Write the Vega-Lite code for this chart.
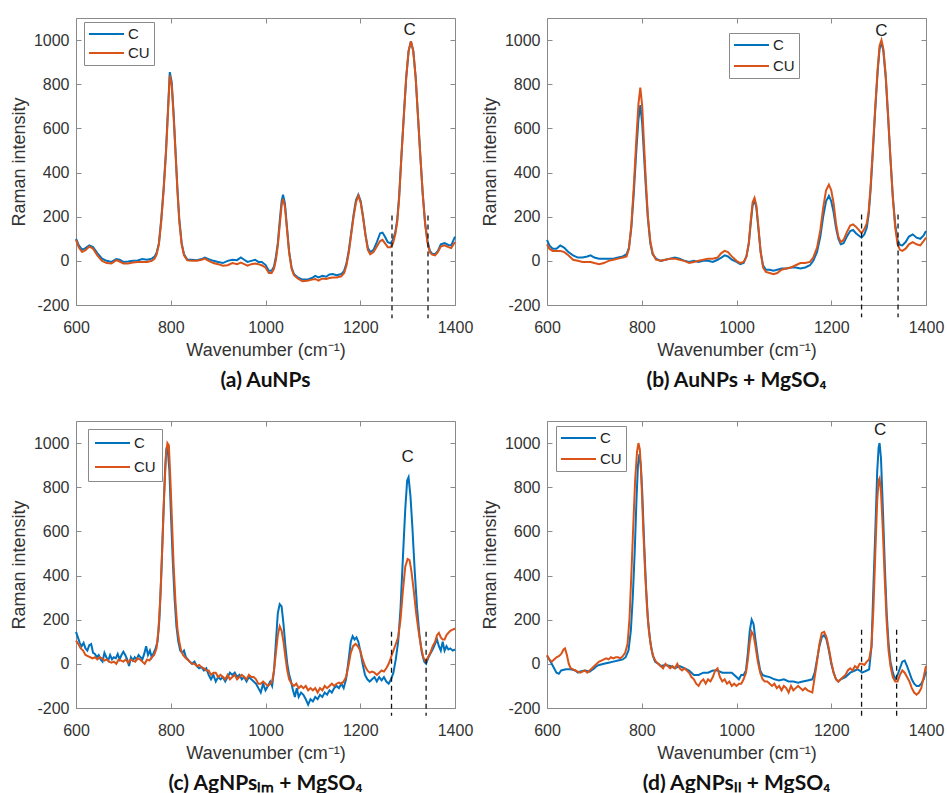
{
  "$schema": "https://vega.github.io/schema/vega-lite/v6.json",
  "padding": {"left": 10, "top": 17, "right": 5, "bottom": 5},
  "background": "white",
  "datasets": {
    "a": [
      {"x":600,"C":100,"CU":95},{"x":606,"C":70,"CU":60},{"x":613,"C":50,"CU":40},{"x":620,"C":58,"CU":48},{"x":628,"C":70,"CU":65},{"x":636,"C":62,"CU":55},{"x":645,"C":35,"CU":25},{"x":655,"C":10,"CU":0},{"x":665,"C":0,"CU":-10},{"x":675,"C":-5,"CU":-12},{"x":685,"C":8,"CU":3},{"x":692,"C":5,"CU":-3},{"x":700,"C":-5,"CU":-12},{"x":710,"C":-3,"CU":-12},{"x":720,"C":0,"CU":-8},{"x":730,"C":2,"CU":-5},{"x":740,"C":8,"CU":-5},{"x":750,"C":5,"CU":-5},{"x":760,"C":10,"CU":0},{"x":766,"C":20,"CU":10},{"x":770,"C":35,"CU":28},{"x":775,"C":80,"CU":75},{"x":780,"C":190,"CU":180},{"x":785,"C":330,"CU":320},{"x":790,"C":500,"CU":490},{"x":794,"C":680,"CU":665},{"x":798,"C":855,"CU":840},{"x":802,"C":810,"CU":795},{"x":806,"C":670,"CU":655},{"x":810,"C":500,"CU":490},{"x":814,"C":330,"CU":320},{"x":818,"C":190,"CU":180},{"x":823,"C":80,"CU":75},{"x":828,"C":30,"CU":25},{"x":835,"C":5,"CU":2},{"x":845,"C":5,"CU":0},{"x":855,"C":3,"CU":0},{"x":865,"C":8,"CU":5},{"x":872,"C":15,"CU":10},{"x":880,"C":8,"CU":0},{"x":890,"C":0,"CU":-10},{"x":900,"C":-5,"CU":-15},{"x":910,"C":-10,"CU":-22},{"x":920,"C":0,"CU":-20},{"x":930,"C":5,"CU":-10},{"x":940,"C":3,"CU":-15},{"x":948,"C":15,"CU":-8},{"x":955,"C":5,"CU":-15},{"x":962,"C":-5,"CU":-22},{"x":970,"C":0,"CU":-15},{"x":978,"C":5,"CU":-12},{"x":985,"C":-5,"CU":-15},{"x":992,"C":-5,"CU":-20},{"x":1000,"C":-18,"CU":-30},{"x":1007,"C":-45,"CU":-55},{"x":1013,"C":-45,"CU":-55},{"x":1018,"C":-25,"CU":-35},{"x":1022,"C":20,"CU":5},{"x":1026,"C":80,"CU":70},{"x":1030,"C":180,"CU":160},{"x":1034,"C":270,"CU":250},{"x":1037,"C":300,"CU":280},{"x":1041,"C":260,"CU":245},{"x":1045,"C":160,"CU":150},{"x":1050,"C":40,"CU":35},{"x":1055,"C":-30,"CU":-35},{"x":1060,"C":-60,"CU":-65},{"x":1068,"C":-75,"CU":-80},{"x":1078,"C":-85,"CU":-92},{"x":1088,"C":-85,"CU":-90},{"x":1098,"C":-78,"CU":-85},{"x":1105,"C":-68,"CU":-82},{"x":1112,"C":-75,"CU":-90},{"x":1120,"C":-68,"CU":-80},{"x":1128,"C":-72,"CU":-82},{"x":1135,"C":-62,"CU":-78},{"x":1142,"C":-60,"CU":-75},{"x":1150,"C":-65,"CU":-75},{"x":1160,"C":-60,"CU":-70},{"x":1166,"C":-45,"CU":-55},{"x":1171,"C":-10,"CU":-20},{"x":1176,"C":50,"CU":40},{"x":1181,"C":130,"CU":120},{"x":1186,"C":210,"CU":200},{"x":1191,"C":275,"CU":265},{"x":1196,"C":300,"CU":295},{"x":1201,"C":270,"CU":262},{"x":1206,"C":200,"CU":195},{"x":1211,"C":120,"CU":115},{"x":1216,"C":60,"CU":50},{"x":1221,"C":40,"CU":30},{"x":1228,"C":50,"CU":40},{"x":1235,"C":85,"CU":65},{"x":1242,"C":125,"CU":90},{"x":1247,"C":128,"CU":95},{"x":1252,"C":110,"CU":80},{"x":1258,"C":85,"CU":62},{"x":1264,"C":80,"CU":62},{"x":1269,"C":95,"CU":78},{"x":1274,"C":130,"CU":120},{"x":1278,"C":185,"CU":175},{"x":1282,"C":290,"CU":280},{"x":1287,"C":480,"CU":475},{"x":1292,"C":660,"CU":655},{"x":1297,"C":830,"CU":830},{"x":1302,"C":950,"CU":950},{"x":1307,"C":995,"CU":995},{"x":1312,"C":950,"CU":950},{"x":1317,"C":830,"CU":830},{"x":1322,"C":650,"CU":650},{"x":1327,"C":470,"CU":470},{"x":1332,"C":300,"CU":300},{"x":1337,"C":170,"CU":165},{"x":1342,"C":90,"CU":82},{"x":1347,"C":45,"CU":38},{"x":1352,"C":32,"CU":28},{"x":1358,"C":30,"CU":25},{"x":1364,"C":45,"CU":40},{"x":1370,"C":75,"CU":65},{"x":1378,"C":80,"CU":70},{"x":1386,"C":72,"CU":62},{"x":1392,"C":70,"CU":58},{"x":1397,"C":95,"CU":75},{"x":1400,"C":110,"CU":85}
    ],
    "b": [
      {"x":600,"C":95,"CU":75},{"x":605,"C":70,"CU":55},{"x":612,"C":55,"CU":45},{"x":620,"C":55,"CU":45},{"x":628,"C":70,"CU":45},{"x":636,"C":60,"CU":40},{"x":645,"C":40,"CU":25},{"x":655,"C":25,"CU":5},{"x":665,"C":15,"CU":0},{"x":675,"C":15,"CU":-5},{"x":685,"C":20,"CU":-5},{"x":692,"C":25,"CU":-5},{"x":700,"C":15,"CU":-10},{"x":710,"C":10,"CU":-15},{"x":720,"C":10,"CU":-10},{"x":730,"C":10,"CU":0},{"x":740,"C":10,"CU":5},{"x":750,"C":15,"CU":10},{"x":760,"C":20,"CU":15},{"x":768,"C":30,"CU":20},{"x":773,"C":60,"CU":55},{"x":778,"C":150,"CU":160},{"x":783,"C":300,"CU":330},{"x":788,"C":480,"CU":530},{"x":793,"C":640,"CU":710},{"x":797,"C":705,"CU":785},{"x":801,"C":620,"CU":700},{"x":805,"C":470,"CU":520},{"x":809,"C":320,"CU":350},{"x":813,"C":190,"CU":200},{"x":818,"C":80,"CU":90},{"x":823,"C":30,"CU":35},{"x":830,"C":10,"CU":5},{"x":840,"C":0,"CU":0},{"x":850,"C":5,"CU":5},{"x":860,"C":10,"CU":10},{"x":870,"C":15,"CU":10},{"x":880,"C":10,"CU":5},{"x":890,"C":0,"CU":0},{"x":900,"C":-5,"CU":-10},{"x":910,"C":0,"CU":-5},{"x":920,"C":-5,"CU":0},{"x":930,"C":0,"CU":5},{"x":940,"C":0,"CU":10},{"x":950,"C":-5,"CU":10},{"x":960,"C":5,"CU":15},{"x":968,"C":15,"CU":35},{"x":975,"C":25,"CU":45},{"x":982,"C":20,"CU":40},{"x":990,"C":5,"CU":20},{"x":1000,"C":-5,"CU":0},{"x":1008,"C":-15,"CU":-10},{"x":1015,"C":-10,"CU":-5},{"x":1021,"C":20,"CU":20},{"x":1026,"C":80,"CU":80},{"x":1030,"C":170,"CU":180},{"x":1034,"C":250,"CU":265},{"x":1038,"C":275,"CU":285},{"x":1042,"C":240,"CU":250},{"x":1046,"C":150,"CU":160},{"x":1051,"C":40,"CU":40},{"x":1056,"C":-20,"CU":-30},{"x":1062,"C":-40,"CU":-50},{"x":1070,"C":-40,"CU":-55},{"x":1078,"C":-45,"CU":-60},{"x":1086,"C":-40,"CU":-55},{"x":1095,"C":-35,"CU":-40},{"x":1105,"C":-35,"CU":-35},{"x":1115,"C":-30,"CU":-30},{"x":1125,"C":-30,"CU":-20},{"x":1135,"C":-35,"CU":-10},{"x":1145,"C":-30,"CU":-10},{"x":1155,"C":-20,"CU":-5},{"x":1162,"C":0,"CU":15},{"x":1170,"C":40,"CU":60},{"x":1177,"C":110,"CU":140},{"x":1183,"C":200,"CU":240},{"x":1189,"C":270,"CU":320},{"x":1195,"C":295,"CU":345},{"x":1200,"C":270,"CU":320},{"x":1205,"C":220,"CU":260},{"x":1210,"C":150,"CU":170},{"x":1215,"C":100,"CU":110},{"x":1220,"C":75,"CU":85},{"x":1226,"C":80,"CU":95},{"x":1233,"C":110,"CU":130},{"x":1240,"C":135,"CU":160},{"x":1246,"C":140,"CU":165},{"x":1252,"C":125,"CU":155},{"x":1258,"C":115,"CU":140},{"x":1264,"C":105,"CU":125},{"x":1270,"C":120,"CU":145},{"x":1275,"C":150,"CU":170},{"x":1279,"C":210,"CU":225},{"x":1283,"C":320,"CU":335},{"x":1288,"C":500,"CU":515},{"x":1293,"C":690,"CU":700},{"x":1298,"C":860,"CU":870},{"x":1302,"C":960,"CU":975},{"x":1306,"C":990,"CU":1000},{"x":1310,"C":950,"CU":960},{"x":1315,"C":830,"CU":840},{"x":1320,"C":650,"CU":660},{"x":1325,"C":460,"CU":465},{"x":1330,"C":290,"CU":285},{"x":1335,"C":165,"CU":150},{"x":1340,"C":95,"CU":75},{"x":1345,"C":72,"CU":50},{"x":1350,"C":70,"CU":45},{"x":1357,"C":85,"CU":55},{"x":1364,"C":110,"CU":75},{"x":1372,"C":120,"CU":85},{"x":1380,"C":105,"CU":75},{"x":1388,"C":100,"CU":70},{"x":1395,"C":115,"CU":90},{"x":1400,"C":135,"CU":105}
    ],
    "c": [
      {"x":600,"s":"C","v":145},{"x":604,"s":"C","v":120},{"x":608,"s":"C","v":95},{"x":612,"s":"C","v":80},{"x":616,"s":"C","v":95},{"x":620,"s":"C","v":70},{"x":624,"s":"C","v":60},{"x":628,"s":"C","v":85},{"x":632,"s":"C","v":90},{"x":636,"s":"C","v":50},{"x":640,"s":"C","v":45},{"x":644,"s":"C","v":30},{"x":648,"s":"C","v":40},{"x":652,"s":"C","v":20},{"x":656,"s":"C","v":10},{"x":660,"s":"C","v":50},{"x":664,"s":"C","v":30},{"x":668,"s":"C","v":15},{"x":672,"s":"C","v":40},{"x":676,"s":"C","v":20},{"x":680,"s":"C","v":30},{"x":684,"s":"C","v":25},{"x":688,"s":"C","v":45},{"x":692,"s":"C","v":20},{"x":696,"s":"C","v":40},{"x":700,"s":"C","v":55},{"x":704,"s":"C","v":40},{"x":708,"s":"C","v":20},{"x":712,"s":"C","v":-10},{"x":716,"s":"C","v":30},{"x":720,"s":"C","v":15},{"x":724,"s":"C","v":30},{"x":728,"s":"C","v":20},{"x":732,"s":"C","v":40},{"x":736,"s":"C","v":30},{"x":740,"s":"C","v":20},{"x":744,"s":"C","v":45},{"x":748,"s":"C","v":80},{"x":752,"s":"C","v":40},{"x":756,"s":"C","v":60},{"x":760,"s":"C","v":30},{"x":764,"s":"C","v":50},{"x":768,"s":"C","v":70},{"x":772,"s":"C","v":100},{"x":776,"s":"C","v":200},{"x":780,"s":"C","v":400},{"x":784,"s":"C","v":650},{"x":788,"s":"C","v":880},{"x":791,"s":"C","v":980},{"x":794,"s":"C","v":960},{"x":797,"s":"C","v":880},{"x":800,"s":"C","v":700},{"x":804,"s":"C","v":480},{"x":808,"s":"C","v":300},{"x":812,"s":"C","v":170},{"x":816,"s":"C","v":100},{"x":820,"s":"C","v":60},{"x":824,"s":"C","v":50},{"x":828,"s":"C","v":60},{"x":832,"s":"C","v":30},{"x":836,"s":"C","v":20},{"x":840,"s":"C","v":10},{"x":845,"s":"C","v":0},{"x":850,"s":"C","v":10},{"x":855,"s":"C","v":-10},{"x":860,"s":"C","v":-20},{"x":865,"s":"C","v":-15},{"x":870,"s":"C","v":-30},{"x":875,"s":"C","v":-20},{"x":880,"s":"C","v":-50},{"x":885,"s":"C","v":-70},{"x":890,"s":"C","v":-50},{"x":895,"s":"C","v":-80},{"x":900,"s":"C","v":-60},{"x":905,"s":"C","v":-70},{"x":910,"s":"C","v":-60},{"x":915,"s":"C","v":-80},{"x":920,"s":"C","v":-60},{"x":925,"s":"C","v":-40},{"x":930,"s":"C","v":-50},{"x":935,"s":"C","v":-40},{"x":940,"s":"C","v":-60},{"x":945,"s":"C","v":-50},{"x":950,"s":"C","v":-70},{"x":955,"s":"C","v":-60},{"x":960,"s":"C","v":-80},{"x":965,"s":"C","v":-60},{"x":970,"s":"C","v":-70},{"x":975,"s":"C","v":-80},{"x":980,"s":"C","v":-90},{"x":985,"s":"C","v":-110},{"x":990,"s":"C","v":-130},{"x":995,"s":"C","v":-90},{"x":1000,"s":"C","v":-120},{"x":1005,"s":"C","v":-100},{"x":1010,"s":"C","v":-80},{"x":1014,"s":"C","v":-100},{"x":1018,"s":"C","v":-30},{"x":1022,"s":"C","v":100},{"x":1026,"s":"C","v":230},{"x":1030,"s":"C","v":270},{"x":1034,"s":"C","v":260},{"x":1038,"s":"C","v":180},{"x":1042,"s":"C","v":80},{"x":1046,"s":"C","v":0},{"x":1050,"s":"C","v":-50},{"x":1054,"s":"C","v":-80},{"x":1058,"s":"C","v":-120},{"x":1062,"s":"C","v":-150},{"x":1066,"s":"C","v":-110},{"x":1070,"s":"C","v":-150},{"x":1075,"s":"C","v":-130},{"x":1080,"s":"C","v":-140},{"x":1085,"s":"C","v":-160},{"x":1090,"s":"C","v":-185},{"x":1095,"s":"C","v":-160},{"x":1100,"s":"C","v":-170},{"x":1105,"s":"C","v":-150},{"x":1110,"s":"C","v":-160},{"x":1115,"s":"C","v":-140},{"x":1120,"s":"C","v":-150},{"x":1125,"s":"C","v":-130},{"x":1130,"s":"C","v":-140},{"x":1135,"s":"C","v":-120},{"x":1140,"s":"C","v":-130},{"x":1145,"s":"C","v":-110},{"x":1150,"s":"C","v":-100},{"x":1155,"s":"C","v":-110},{"x":1160,"s":"C","v":-90},{"x":1165,"s":"C","v":-110},{"x":1170,"s":"C","v":-70},{"x":1175,"s":"C","v":10},{"x":1180,"s":"C","v":100},{"x":1184,"s":"C","v":125},{"x":1188,"s":"C","v":110},{"x":1192,"s":"C","v":120},{"x":1196,"s":"C","v":100},{"x":1200,"s":"C","v":60},{"x":1205,"s":"C","v":0},{"x":1210,"s":"C","v":-50},{"x":1215,"s":"C","v":-70},{"x":1220,"s":"C","v":-80},{"x":1225,"s":"C","v":-70},{"x":1230,"s":"C","v":-60},{"x":1235,"s":"C","v":-80},{"x":1240,"s":"C","v":-60},{"x":1245,"s":"C","v":-75},{"x":1250,"s":"C","v":-60},{"x":1255,"s":"C","v":-80},{"x":1260,"s":"C","v":-90},{"x":1265,"s":"C","v":-70},{"x":1270,"s":"C","v":-40},{"x":1275,"s":"C","v":20},{"x":1280,"s":"C","v":100},{"x":1285,"s":"C","v":250},{"x":1290,"s":"C","v":480},{"x":1295,"s":"C","v":700},{"x":1299,"s":"C","v":830},{"x":1302,"s":"C","v":845},{"x":1306,"s":"C","v":760},{"x":1310,"s":"C","v":620},{"x":1315,"s":"C","v":420},{"x":1320,"s":"C","v":250},{"x":1325,"s":"C","v":130},{"x":1330,"s":"C","v":50},{"x":1335,"s":"C","v":10},{"x":1339,"s":"C","v":0},{"x":1344,"s":"C","v":30},{"x":1349,"s":"C","v":50},{"x":1354,"s":"C","v":70},{"x":1358,"s":"C","v":90},{"x":1362,"s":"C","v":110},{"x":1366,"s":"C","v":80},{"x":1370,"s":"C","v":60},{"x":1374,"s":"C","v":100},{"x":1378,"s":"C","v":60},{"x":1382,"s":"C","v":80},{"x":1386,"s":"C","v":65},{"x":1390,"s":"C","v":70},{"x":1395,"s":"C","v":60},{"x":1400,"s":"C","v":65},
      {"x":600,"s":"CU","v":105},{"x":605,"s":"CU","v":90},{"x":610,"s":"CU","v":70},{"x":615,"s":"CU","v":60},{"x":620,"s":"CU","v":40},{"x":625,"s":"CU","v":35},{"x":630,"s":"CU","v":30},{"x":635,"s":"CU","v":25},{"x":640,"s":"CU","v":30},{"x":645,"s":"CU","v":20},{"x":650,"s":"CU","v":30},{"x":655,"s":"CU","v":25},{"x":660,"s":"CU","v":15},{"x":665,"s":"CU","v":20},{"x":670,"s":"CU","v":10},{"x":675,"s":"CU","v":5},{"x":680,"s":"CU","v":10},{"x":685,"s":"CU","v":0},{"x":690,"s":"CU","v":20},{"x":695,"s":"CU","v":15},{"x":700,"s":"CU","v":10},{"x":705,"s":"CU","v":20},{"x":710,"s":"CU","v":5},{"x":715,"s":"CU","v":20},{"x":720,"s":"CU","v":15},{"x":725,"s":"CU","v":10},{"x":730,"s":"CU","v":25},{"x":735,"s":"CU","v":20},{"x":740,"s":"CU","v":10},{"x":745,"s":"CU","v":0},{"x":750,"s":"CU","v":20},{"x":755,"s":"CU","v":15},{"x":760,"s":"CU","v":30},{"x":765,"s":"CU","v":40},{"x":770,"s":"CU","v":70},{"x":774,"s":"CU","v":150},{"x":778,"s":"CU","v":300},{"x":782,"s":"CU","v":520},{"x":786,"s":"CU","v":760},{"x":790,"s":"CU","v":950},{"x":793,"s":"CU","v":1000},{"x":796,"s":"CU","v":990},{"x":799,"s":"CU","v":850},{"x":802,"s":"CU","v":680},{"x":806,"s":"CU","v":450},{"x":810,"s":"CU","v":280},{"x":814,"s":"CU","v":160},{"x":818,"s":"CU","v":100},{"x":822,"s":"CU","v":60},{"x":826,"s":"CU","v":40},{"x":830,"s":"CU","v":30},{"x":835,"s":"CU","v":20},{"x":840,"s":"CU","v":10},{"x":845,"s":"CU","v":0},{"x":850,"s":"CU","v":0},{"x":855,"s":"CU","v":-10},{"x":860,"s":"CU","v":-5},{"x":865,"s":"CU","v":-15},{"x":870,"s":"CU","v":-20},{"x":875,"s":"CU","v":-30},{"x":880,"s":"CU","v":-30},{"x":885,"s":"CU","v":-50},{"x":890,"s":"CU","v":-40},{"x":895,"s":"CU","v":-40},{"x":900,"s":"CU","v":-60},{"x":905,"s":"CU","v":-50},{"x":910,"s":"CU","v":-60},{"x":915,"s":"CU","v":-70},{"x":920,"s":"CU","v":-50},{"x":925,"s":"CU","v":-70},{"x":930,"s":"CU","v":-60},{"x":935,"s":"CU","v":-50},{"x":940,"s":"CU","v":-70},{"x":945,"s":"CU","v":-60},{"x":950,"s":"CU","v":-50},{"x":955,"s":"CU","v":-60},{"x":960,"s":"CU","v":-70},{"x":965,"s":"CU","v":-50},{"x":970,"s":"CU","v":-60},{"x":975,"s":"CU","v":-60},{"x":980,"s":"CU","v":-70},{"x":985,"s":"CU","v":-90},{"x":990,"s":"CU","v":-90},{"x":995,"s":"CU","v":-80},{"x":1000,"s":"CU","v":-90},{"x":1005,"s":"CU","v":-100},{"x":1010,"s":"CU","v":-90},{"x":1014,"s":"CU","v":-80},{"x":1018,"s":"CU","v":-30},{"x":1022,"s":"CU","v":50},{"x":1026,"s":"CU","v":130},{"x":1030,"s":"CU","v":170},{"x":1034,"s":"CU","v":150},{"x":1038,"s":"CU","v":100},{"x":1042,"s":"CU","v":30},{"x":1046,"s":"CU","v":-30},{"x":1050,"s":"CU","v":-70},{"x":1055,"s":"CU","v":-90},{"x":1060,"s":"CU","v":-100},{"x":1065,"s":"CU","v":-90},{"x":1070,"s":"CU","v":-110},{"x":1075,"s":"CU","v":-100},{"x":1080,"s":"CU","v":-110},{"x":1085,"s":"CU","v":-100},{"x":1090,"s":"CU","v":-120},{"x":1095,"s":"CU","v":-110},{"x":1100,"s":"CU","v":-120},{"x":1105,"s":"CU","v":-110},{"x":1110,"s":"CU","v":-130},{"x":1115,"s":"CU","v":-110},{"x":1120,"s":"CU","v":-120},{"x":1125,"s":"CU","v":-100},{"x":1130,"s":"CU","v":-110},{"x":1135,"s":"CU","v":-100},{"x":1140,"s":"CU","v":-90},{"x":1145,"s":"CU","v":-100},{"x":1150,"s":"CU","v":-90},{"x":1155,"s":"CU","v":-85},{"x":1160,"s":"CU","v":-90},{"x":1165,"s":"CU","v":-80},{"x":1170,"s":"CU","v":-60},{"x":1175,"s":"CU","v":-10},{"x":1180,"s":"CU","v":50},{"x":1185,"s":"CU","v":80},{"x":1190,"s":"CU","v":90},{"x":1195,"s":"CU","v":80},{"x":1200,"s":"CU","v":60},{"x":1205,"s":"CU","v":20},{"x":1210,"s":"CU","v":-10},{"x":1215,"s":"CU","v":-30},{"x":1220,"s":"CU","v":-40},{"x":1225,"s":"CU","v":-35},{"x":1230,"s":"CU","v":-40},{"x":1235,"s":"CU","v":-50},{"x":1240,"s":"CU","v":-40},{"x":1245,"s":"CU","v":-30},{"x":1250,"s":"CU","v":-35},{"x":1255,"s":"CU","v":-20},{"x":1260,"s":"CU","v":0},{"x":1265,"s":"CU","v":30},{"x":1270,"s":"CU","v":60},{"x":1275,"s":"CU","v":90},{"x":1280,"s":"CU","v":120},{"x":1285,"s":"CU","v":200},{"x":1290,"s":"CU","v":330},{"x":1295,"s":"CU","v":440},{"x":1300,"s":"CU","v":475},{"x":1304,"s":"CU","v":470},{"x":1308,"s":"CU","v":420},{"x":1313,"s":"CU","v":330},{"x":1318,"s":"CU","v":230},{"x":1323,"s":"CU","v":150},{"x":1328,"s":"CU","v":80},{"x":1333,"s":"CU","v":30},{"x":1338,"s":"CU","v":10},{"x":1343,"s":"CU","v":30},{"x":1348,"s":"CU","v":50},{"x":1353,"s":"CU","v":80},{"x":1358,"s":"CU","v":100},{"x":1362,"s":"CU","v":130},{"x":1366,"s":"CU","v":140},{"x":1370,"s":"CU","v":120},{"x":1374,"s":"CU","v":110},{"x":1378,"s":"CU","v":110},{"x":1382,"s":"CU","v":130},{"x":1386,"s":"CU","v":140},{"x":1390,"s":"CU","v":150},{"x":1395,"s":"CU","v":155},{"x":1400,"s":"CU","v":160}
    ],
    "d": [
      {"x":600,"s":"C","v":35},{"x":605,"s":"C","v":20},{"x":610,"s":"C","v":0},{"x":615,"s":"C","v":-20},{"x":620,"s":"C","v":-40},{"x":625,"s":"C","v":-45},{"x":630,"s":"C","v":-30},{"x":640,"s":"C","v":-25},{"x":650,"s":"C","v":-25},{"x":660,"s":"C","v":-30},{"x":665,"s":"C","v":-40},{"x":670,"s":"C","v":-35},{"x":680,"s":"C","v":-30},{"x":690,"s":"C","v":-35},{"x":700,"s":"C","v":-20},{"x":705,"s":"C","v":-10},{"x":710,"s":"C","v":-5},{"x":720,"s":"C","v":0},{"x":730,"s":"C","v":5},{"x":740,"s":"C","v":10},{"x":750,"s":"C","v":15},{"x":760,"s":"C","v":20},{"x":766,"s":"C","v":30},{"x":772,"s":"C","v":60},{"x":777,"s":"C","v":150},{"x":781,"s":"C","v":300},{"x":785,"s":"C","v":500},{"x":789,"s":"C","v":750},{"x":792,"s":"C","v":900},{"x":795,"s":"C","v":950},{"x":798,"s":"C","v":900},{"x":801,"s":"C","v":780},{"x":805,"s":"C","v":550},{"x":809,"s":"C","v":350},{"x":813,"s":"C","v":200},{"x":818,"s":"C","v":100},{"x":823,"s":"C","v":40},{"x":828,"s":"C","v":10},{"x":835,"s":"C","v":0},{"x":840,"s":"C","v":-10},{"x":850,"s":"C","v":-5},{"x":860,"s":"C","v":-10},{"x":870,"s":"C","v":-20},{"x":880,"s":"C","v":-10},{"x":890,"s":"C","v":-20},{"x":900,"s":"C","v":-30},{"x":910,"s":"C","v":-50},{"x":920,"s":"C","v":-50},{"x":930,"s":"C","v":-40},{"x":940,"s":"C","v":-40},{"x":950,"s":"C","v":-30},{"x":960,"s":"C","v":-30},{"x":970,"s":"C","v":-40},{"x":980,"s":"C","v":-40},{"x":990,"s":"C","v":-40},{"x":1000,"s":"C","v":-60},{"x":1005,"s":"C","v":-70},{"x":1010,"s":"C","v":-50},{"x":1015,"s":"C","v":-50},{"x":1020,"s":"C","v":-30},{"x":1024,"s":"C","v":50},{"x":1028,"s":"C","v":150},{"x":1032,"s":"C","v":200},{"x":1036,"s":"C","v":180},{"x":1040,"s":"C","v":110},{"x":1045,"s":"C","v":30},{"x":1050,"s":"C","v":-30},{"x":1055,"s":"C","v":-50},{"x":1060,"s":"C","v":-55},{"x":1070,"s":"C","v":-60},{"x":1080,"s":"C","v":-70},{"x":1090,"s":"C","v":-75},{"x":1100,"s":"C","v":-70},{"x":1110,"s":"C","v":-80},{"x":1120,"s":"C","v":-80},{"x":1130,"s":"C","v":-85},{"x":1140,"s":"C","v":-80},{"x":1150,"s":"C","v":-75},{"x":1160,"s":"C","v":-70},{"x":1165,"s":"C","v":-40},{"x":1170,"s":"C","v":20},{"x":1175,"s":"C","v":80},{"x":1180,"s":"C","v":120},{"x":1185,"s":"C","v":130},{"x":1190,"s":"C","v":110},{"x":1195,"s":"C","v":60},{"x":1200,"s":"C","v":0},{"x":1205,"s":"C","v":-40},{"x":1210,"s":"C","v":-70},{"x":1215,"s":"C","v":-80},{"x":1220,"s":"C","v":-70},{"x":1230,"s":"C","v":-60},{"x":1240,"s":"C","v":-40},{"x":1250,"s":"C","v":-30},{"x":1255,"s":"C","v":-25},{"x":1260,"s":"C","v":-30},{"x":1265,"s":"C","v":-40},{"x":1270,"s":"C","v":-35},{"x":1275,"s":"C","v":-30},{"x":1280,"s":"C","v":-25},{"x":1285,"s":"C","v":80},{"x":1289,"s":"C","v":350},{"x":1293,"s":"C","v":600},{"x":1297,"s":"C","v":870},{"x":1300,"s":"C","v":980},{"x":1302,"s":"C","v":1000},{"x":1305,"s":"C","v":930},{"x":1309,"s":"C","v":700},{"x":1313,"s":"C","v":450},{"x":1317,"s":"C","v":230},{"x":1321,"s":"C","v":90},{"x":1325,"s":"C","v":10},{"x":1330,"s":"C","v":-40},{"x":1335,"s":"C","v":-70},{"x":1340,"s":"C","v":-50},{"x":1345,"s":"C","v":-20},{"x":1350,"s":"C","v":10},{"x":1355,"s":"C","v":15},{"x":1360,"s":"C","v":-10},{"x":1365,"s":"C","v":-40},{"x":1370,"s":"C","v":-70},{"x":1375,"s":"C","v":-90},{"x":1380,"s":"C","v":-100},{"x":1385,"s":"C","v":-100},{"x":1390,"s":"C","v":-90},{"x":1395,"s":"C","v":-70},{"x":1400,"s":"C","v":-35},
      {"x":600,"s":"CU","v":40},{"x":605,"s":"CU","v":20},{"x":610,"s":"CU","v":10},{"x":615,"s":"CU","v":20},{"x":620,"s":"CU","v":30},{"x":625,"s":"CU","v":35},{"x":630,"s":"CU","v":45},{"x":635,"s":"CU","v":65},{"x":638,"s":"CU","v":70},{"x":642,"s":"CU","v":40},{"x":646,"s":"CU","v":0},{"x":650,"s":"CU","v":-20},{"x":655,"s":"CU","v":-25},{"x":660,"s":"CU","v":-30},{"x":665,"s":"CU","v":-35},{"x":670,"s":"CU","v":-40},{"x":675,"s":"CU","v":-35},{"x":680,"s":"CU","v":-30},{"x":685,"s":"CU","v":-40},{"x":690,"s":"CU","v":-30},{"x":695,"s":"CU","v":-20},{"x":700,"s":"CU","v":-10},{"x":705,"s":"CU","v":0},{"x":710,"s":"CU","v":10},{"x":715,"s":"CU","v":15},{"x":720,"s":"CU","v":20},{"x":725,"s":"CU","v":25},{"x":730,"s":"CU","v":20},{"x":735,"s":"CU","v":30},{"x":740,"s":"CU","v":25},{"x":745,"s":"CU","v":30},{"x":750,"s":"CU","v":30},{"x":755,"s":"CU","v":25},{"x":760,"s":"CU","v":35},{"x":765,"s":"CU","v":50},{"x":770,"s":"CU","v":90},{"x":774,"s":"CU","v":200},{"x":778,"s":"CU","v":400},{"x":782,"s":"CU","v":620},{"x":786,"s":"CU","v":830},{"x":790,"s":"CU","v":960},{"x":793,"s":"CU","v":1000},{"x":796,"s":"CU","v":970},{"x":799,"s":"CU","v":850},{"x":803,"s":"CU","v":620},{"x":807,"s":"CU","v":420},{"x":811,"s":"CU","v":260},{"x":815,"s":"CU","v":150},{"x":820,"s":"CU","v":70},{"x":825,"s":"CU","v":30},{"x":830,"s":"CU","v":10},{"x":835,"s":"CU","v":0},{"x":840,"s":"CU","v":-10},{"x":845,"s":"CU","v":-20},{"x":850,"s":"CU","v":0},{"x":855,"s":"CU","v":-10},{"x":860,"s":"CU","v":-20},{"x":865,"s":"CU","v":-10},{"x":870,"s":"CU","v":-20},{"x":875,"s":"CU","v":0},{"x":880,"s":"CU","v":-20},{"x":885,"s":"CU","v":-30},{"x":890,"s":"CU","v":-20},{"x":895,"s":"CU","v":-30},{"x":900,"s":"CU","v":-40},{"x":905,"s":"CU","v":-60},{"x":910,"s":"CU","v":-70},{"x":915,"s":"CU","v":-90},{"x":920,"s":"CU","v":-100},{"x":925,"s":"CU","v":-80},{"x":930,"s":"CU","v":-70},{"x":935,"s":"CU","v":-90},{"x":940,"s":"CU","v":-70},{"x":945,"s":"CU","v":-80},{"x":950,"s":"CU","v":-60},{"x":955,"s":"CU","v":-30},{"x":960,"s":"CU","v":-20},{"x":965,"s":"CU","v":-60},{"x":970,"s":"CU","v":-80},{"x":975,"s":"CU","v":-70},{"x":980,"s":"CU","v":-90},{"x":985,"s":"CU","v":-80},{"x":990,"s":"CU","v":-100},{"x":995,"s":"CU","v":-90},{"x":1000,"s":"CU","v":-100},{"x":1005,"s":"CU","v":-90},{"x":1010,"s":"CU","v":-90},{"x":1015,"s":"CU","v":-70},{"x":1020,"s":"CU","v":-40},{"x":1024,"s":"CU","v":20},{"x":1028,"s":"CU","v":100},{"x":1032,"s":"CU","v":145},{"x":1036,"s":"CU","v":130},{"x":1040,"s":"CU","v":80},{"x":1045,"s":"CU","v":10},{"x":1050,"s":"CU","v":-40},{"x":1055,"s":"CU","v":-70},{"x":1060,"s":"CU","v":-80},{"x":1065,"s":"CU","v":-80},{"x":1070,"s":"CU","v":-90},{"x":1075,"s":"CU","v":-100},{"x":1080,"s":"CU","v":-90},{"x":1085,"s":"CU","v":-110},{"x":1090,"s":"CU","v":-100},{"x":1095,"s":"CU","v":-120},{"x":1100,"s":"CU","v":-100},{"x":1105,"s":"CU","v":-110},{"x":1110,"s":"CU","v":-130},{"x":1115,"s":"CU","v":-100},{"x":1120,"s":"CU","v":-120},{"x":1125,"s":"CU","v":-110},{"x":1130,"s":"CU","v":-100},{"x":1135,"s":"CU","v":-110},{"x":1140,"s":"CU","v":-120},{"x":1145,"s":"CU","v":-110},{"x":1150,"s":"CU","v":-120},{"x":1155,"s":"CU","v":-125},{"x":1160,"s":"CU","v":-130},{"x":1165,"s":"CU","v":-60},{"x":1170,"s":"CU","v":10},{"x":1175,"s":"CU","v":90},{"x":1180,"s":"CU","v":140},{"x":1185,"s":"CU","v":145},{"x":1190,"s":"CU","v":120},{"x":1195,"s":"CU","v":70},{"x":1200,"s":"CU","v":10},{"x":1205,"s":"CU","v":-40},{"x":1210,"s":"CU","v":-70},{"x":1215,"s":"CU","v":-80},{"x":1220,"s":"CU","v":-70},{"x":1225,"s":"CU","v":-60},{"x":1230,"s":"CU","v":-50},{"x":1235,"s":"CU","v":-30},{"x":1240,"s":"CU","v":-20},{"x":1245,"s":"CU","v":-30},{"x":1250,"s":"CU","v":-10},{"x":1255,"s":"CU","v":-20},{"x":1260,"s":"CU","v":0},{"x":1265,"s":"CU","v":0},{"x":1270,"s":"CU","v":-5},{"x":1275,"s":"CU","v":10},{"x":1280,"s":"CU","v":20},{"x":1285,"s":"CU","v":80},{"x":1289,"s":"CU","v":250},{"x":1293,"s":"CU","v":500},{"x":1297,"s":"CU","v":740},{"x":1300,"s":"CU","v":830},{"x":1302,"s":"CU","v":840},{"x":1305,"s":"CU","v":780},{"x":1309,"s":"CU","v":600},{"x":1313,"s":"CU","v":380},{"x":1317,"s":"CU","v":190},{"x":1321,"s":"CU","v":60},{"x":1325,"s":"CU","v":-10},{"x":1330,"s":"CU","v":-60},{"x":1335,"s":"CU","v":-80},{"x":1340,"s":"CU","v":-80},{"x":1345,"s":"CU","v":-50},{"x":1350,"s":"CU","v":-30},{"x":1355,"s":"CU","v":-40},{"x":1360,"s":"CU","v":-60},{"x":1365,"s":"CU","v":-80},{"x":1370,"s":"CU","v":-110},{"x":1375,"s":"CU","v":-130},{"x":1380,"s":"CU","v":-140},{"x":1385,"s":"CU","v":-130},{"x":1390,"s":"CU","v":-110},{"x":1395,"s":"CU","v":-60},{"x":1400,"s":"CU","v":-10}
    ]
  },
  "columns": 2,
  "bounds": "flush",
  "spacing": {"row": 116, "column": 92},
  "resolve": {"scale": {"color": "independent"}, "legend": {"color": "independent"}},
  "concat": [
    {
      "width": 379, "height": 287,
      "title": {"text": "(a) AuNPs"},
      "layer": [
        {
          "data": {"name": "a"},
          "transform": [{"fold": ["C", "CU"], "as": ["s", "v"]}],
          "mark": {"type": "line", "strokeWidth": 2},
          "encoding": {
            "x": {"field": "x", "type": "quantitative", "scale": {"domain": [600, 1400], "nice": false, "zero": false}, "axis": {"orient": "bottom", "values": [600, 800, 1000, 1200, 1400], "title": "Wavenumber (cm⁻¹)", "labelExpr": "'' + datum.value"}},
            "y": {"field": "v", "type": "quantitative", "scale": {"domain": [-200, 1100], "nice": false, "zero": false}, "axis": {"orient": "left", "values": [-200, 0, 200, 400, 600, 800, 1000], "title": "Raman intensity", "labelExpr": "'' + datum.value"}},
            "color": {"field": "s", "type": "nominal", "scale": {"domain": ["C", "CU"], "range": ["#0072BD", "#D95319"]}, "legend": {"orient": "none", "legendX": 8, "legendY": 4, "padding": 4, "rowPadding": 3}}
          }
        },
        {
          "data": {"values": [{"x": 1267, "y1": 205, "y2": -260}, {"x": 1343, "y1": 205, "y2": -260}]},
          "mark": {"type": "rule", "strokeDash": [5, 4], "color": "#111", "strokeWidth": 1.3},
          "encoding": {
            "x": {"field": "x", "type": "quantitative", "scale": {"domain": [600, 1400], "nice": false, "zero": false}, "axis": {"orient": "top", "labels": false, "title": null, "values": [600, 800, 1000, 1200, 1400]}},
            "y": {"field": "y1", "type": "quantitative", "scale": {"domain": [-200, 1100], "nice": false, "zero": false}, "axis": {"orient": "right", "labels": false, "title": null, "values": [-200, 0, 200, 400, 600, 800, 1000]}},
            "y2": {"field": "y2"}
          }
        },
        {
          "data": {"values": [{"x": 1304, "y": 1045, "t": "C"}]},
          "mark": {"type": "text", "fontSize": 17, "color": "#222", "font": "Liberation Sans"},
          "encoding": {
            "x": {"field": "x", "type": "quantitative", "scale": {"domain": [600, 1400], "nice": false, "zero": false}, "axis": null},
            "y": {"field": "y", "type": "quantitative", "scale": {"domain": [-200, 1100], "nice": false, "zero": false}, "axis": null},
            "text": {"field": "t"}
          }
        }
      ],
      "resolve": {"axis": {"x": "independent", "y": "independent"}}
    },
    {
      "width": 379, "height": 287,
      "title": {"text": "(b) AuNPs + MgSO₄"},
      "layer": [
        {
          "data": {"name": "b"},
          "transform": [{"fold": ["C", "CU"], "as": ["s", "v"]}],
          "mark": {"type": "line", "strokeWidth": 2},
          "encoding": {
            "x": {"field": "x", "type": "quantitative", "scale": {"domain": [600, 1400], "nice": false, "zero": false}, "axis": {"orient": "bottom", "values": [600, 800, 1000, 1200, 1400], "title": "Wavenumber (cm⁻¹)", "labelExpr": "'' + datum.value"}},
            "y": {"field": "v", "type": "quantitative", "scale": {"domain": [-200, 1100], "nice": false, "zero": false}, "axis": {"orient": "left", "values": [-200, 0, 200, 400, 600, 800, 1000], "title": "Raman intensity", "labelExpr": "'' + datum.value"}},
            "color": {"field": "s", "type": "nominal", "scale": {"domain": ["C", "CU"], "range": ["#0072BD", "#D95319"]}, "legend": {"orient": "none", "legendX": 182, "legendY": 15, "padding": 4, "rowPadding": 5}}
          }
        },
        {
          "data": {"values": [{"x": 1264, "y1": 210, "y2": -255}, {"x": 1341, "y1": 210, "y2": -255}]},
          "mark": {"type": "rule", "strokeDash": [5, 4], "color": "#111", "strokeWidth": 1.3},
          "encoding": {
            "x": {"field": "x", "type": "quantitative", "scale": {"domain": [600, 1400], "nice": false, "zero": false}, "axis": {"orient": "top", "labels": false, "title": null, "values": [600, 800, 1000, 1200, 1400]}},
            "y": {"field": "y1", "type": "quantitative", "scale": {"domain": [-200, 1100], "nice": false, "zero": false}, "axis": {"orient": "right", "labels": false, "title": null, "values": [-200, 0, 200, 400, 600, 800, 1000]}},
            "y2": {"field": "y2"}
          }
        },
        {
          "data": {"values": [{"x": 1306, "y": 1040, "t": "C"}]},
          "mark": {"type": "text", "fontSize": 17, "color": "#222", "font": "Liberation Sans"},
          "encoding": {
            "x": {"field": "x", "type": "quantitative", "scale": {"domain": [600, 1400], "nice": false, "zero": false}, "axis": null},
            "y": {"field": "y", "type": "quantitative", "scale": {"domain": [-200, 1100], "nice": false, "zero": false}, "axis": null},
            "text": {"field": "t"}
          }
        }
      ],
      "resolve": {"axis": {"x": "independent", "y": "independent"}}
    },
    {
      "width": 379, "height": 287,
      "title": {"text": "(c) AgNPsₗₘ + MgSO₄"},
      "layer": [
        {
          "data": {"name": "c"},
          "mark": {"type": "line", "strokeWidth": 2},
          "encoding": {
            "x": {"field": "x", "type": "quantitative", "scale": {"domain": [600, 1400], "nice": false, "zero": false}, "axis": {"orient": "bottom", "values": [600, 800, 1000, 1200, 1400], "title": "Wavenumber (cm⁻¹)", "labelExpr": "'' + datum.value"}},
            "y": {"field": "v", "type": "quantitative", "scale": {"domain": [-200, 1100], "nice": false, "zero": false}, "axis": {"orient": "left", "values": [-200, 0, 200, 400, 600, 800, 1000], "title": "Raman intensity", "labelExpr": "'' + datum.value"}},
            "color": {"field": "s", "type": "nominal", "scale": {"domain": ["C", "CU"], "range": ["#0072BD", "#D95319"]}, "legend": {"orient": "none", "legendX": 12, "legendY": 8, "padding": 6, "rowPadding": 8}}
          }
        },
        {
          "data": {"values": [{"x": 1266, "y1": 145, "y2": -235}, {"x": 1339, "y1": 145, "y2": -235}]},
          "mark": {"type": "rule", "strokeDash": [5, 4], "color": "#111", "strokeWidth": 1.3},
          "encoding": {
            "x": {"field": "x", "type": "quantitative", "scale": {"domain": [600, 1400], "nice": false, "zero": false}, "axis": {"orient": "top", "labels": false, "title": null, "values": [600, 800, 1000, 1200, 1400]}},
            "y": {"field": "y1", "type": "quantitative", "scale": {"domain": [-200, 1100], "nice": false, "zero": false}, "axis": {"orient": "right", "labels": false, "title": null, "values": [-200, 0, 200, 400, 600, 800, 1000]}},
            "y2": {"field": "y2"}
          }
        },
        {
          "data": {"values": [{"x": 1300, "y": 937, "t": "C"}]},
          "mark": {"type": "text", "fontSize": 17, "color": "#222", "font": "Liberation Sans"},
          "encoding": {
            "x": {"field": "x", "type": "quantitative", "scale": {"domain": [600, 1400], "nice": false, "zero": false}, "axis": null},
            "y": {"field": "y", "type": "quantitative", "scale": {"domain": [-200, 1100], "nice": false, "zero": false}, "axis": null},
            "text": {"field": "t"}
          }
        }
      ],
      "resolve": {"axis": {"x": "independent", "y": "independent"}}
    },
    {
      "width": 379, "height": 287,
      "title": {"text": "(d) AgNPsₗₗ + MgSO₄"},
      "layer": [
        {
          "data": {"name": "d"},
          "mark": {"type": "line", "strokeWidth": 2},
          "encoding": {
            "x": {"field": "x", "type": "quantitative", "scale": {"domain": [600, 1400], "nice": false, "zero": false}, "axis": {"orient": "bottom", "values": [600, 800, 1000, 1200, 1400], "title": "Wavenumber (cm⁻¹)", "labelExpr": "'' + datum.value"}},
            "y": {"field": "v", "type": "quantitative", "scale": {"domain": [-200, 1100], "nice": false, "zero": false}, "axis": {"orient": "left", "values": [-200, 0, 200, 400, 600, 800, 1000], "title": "Raman intensity", "labelExpr": "'' + datum.value"}},
            "color": {"field": "s", "type": "nominal", "scale": {"domain": ["C", "CU"], "range": ["#0072BD", "#D95319"]}, "legend": {"orient": "none", "legendX": 9, "legendY": 5, "padding": 4, "rowPadding": 5}}
          }
        },
        {
          "data": {"values": [{"x": 1264, "y1": 155, "y2": -240}, {"x": 1338, "y1": 155, "y2": -240}]},
          "mark": {"type": "rule", "strokeDash": [5, 4], "color": "#111", "strokeWidth": 1.3},
          "encoding": {
            "x": {"field": "x", "type": "quantitative", "scale": {"domain": [600, 1400], "nice": false, "zero": false}, "axis": {"orient": "top", "labels": false, "title": null, "values": [600, 800, 1000, 1200, 1400]}},
            "y": {"field": "y1", "type": "quantitative", "scale": {"domain": [-200, 1100], "nice": false, "zero": false}, "axis": {"orient": "right", "labels": false, "title": null, "values": [-200, 0, 200, 400, 600, 800, 1000]}},
            "y2": {"field": "y2"}
          }
        },
        {
          "data": {"values": [{"x": 1303, "y": 1058, "t": "C"}]},
          "mark": {"type": "text", "fontSize": 17, "color": "#222", "font": "Liberation Sans"},
          "encoding": {
            "x": {"field": "x", "type": "quantitative", "scale": {"domain": [600, 1400], "nice": false, "zero": false}, "axis": null},
            "y": {"field": "y", "type": "quantitative", "scale": {"domain": [-200, 1100], "nice": false, "zero": false}, "axis": null},
            "text": {"field": "t"}
          }
        }
      ],
      "resolve": {"axis": {"x": "independent", "y": "independent"}}
    }
  ],
  "config": {
    "view": {"stroke": null},
    "font": "Liberation Sans",
    "axis": {
      "grid": false,
      "domainColor": "#8a8a8a",
      "tickColor": "#8a8a8a",
      "tickSize": -5,
      "labelFont": "Liberation Sans",
      "labelFontSize": 16,
      "labelColor": "#333333",
      "labelFlush": false,
      "titleFont": "Liberation Sans",
      "titleFontSize": 18,
      "titleFontWeight": "normal",
      "titleColor": "#333333"
    },
    "axisBottom": {"labelPadding": 19, "titlePadding": 6},
    "axisLeft": {"labelPadding": 12, "titlePadding": 5},
    "legend": {
      "title": null,
      "symbolType": "stroke",
      "symbolSize": 1225,
      "symbolStrokeWidth": 2,
      "clipHeight": 16,
      "labelFont": "Liberation Sans",
      "labelFontSize": 15,
      "labelColor": "#222222",
      "labelOffset": 3,
      "fillColor": "white",
      "strokeColor": "#8a8a8a"
    },
    "title": {
      "orient": "bottom",
      "anchor": "middle",
      "font": "Lato",
      "fontWeight": "bold",
      "fontSize": 21,
      "color": "#111111",
      "offset": 11
    }
  }
}
